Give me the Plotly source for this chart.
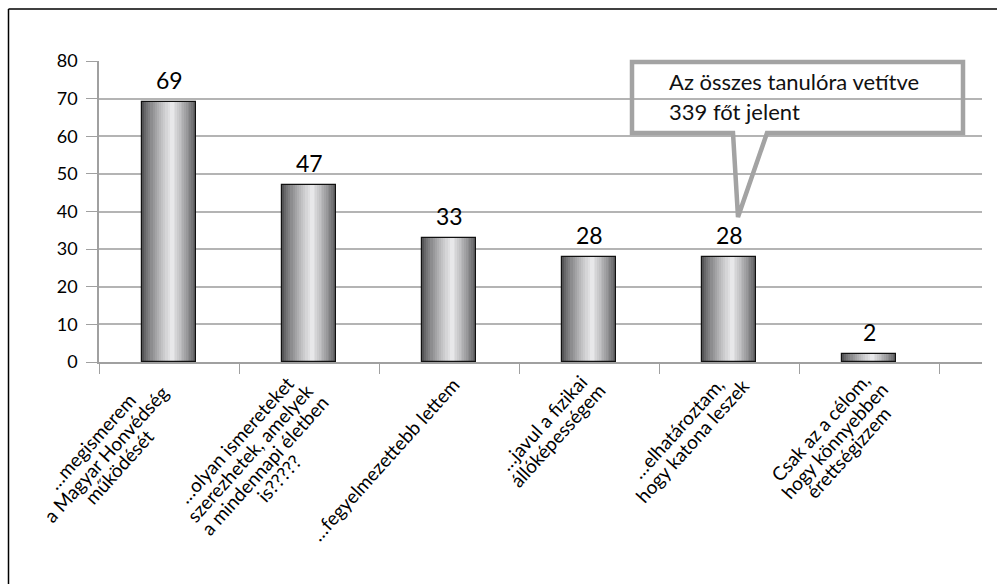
import math
import plotly.graph_objects as go

categories = [
    "…megismerem<br>a Magyar Honvédség<br>működését",
    "…olyan ismereteket<br>szerezhetek, amelyek<br>a mindennapi életben<br>is?????",
    "…fegyelmezettebb lettem",
    "…javul a fizikai<br>állóképességem",
    "…elhatároztam,<br>hogy katona leszek",
    "Csak az a célom,<br>hogy könnyebben<br>érettségizzem",
]
values = [69, 47, 33, 28, 28, 2]
y_ticks = [0, 10, 20, 30, 40, 50, 60, 70, 80]
callout_lines = ["Az összes tanulóra vetítve", "339 főt jelent"]

W, H = 997, 584
L, R, T, B = 99, 15, 61, 222
PW, PH = W - L - R, H - T - B
CAT_W = 140  # pixels per category


def px(x):
    return (x - L) / PW


def py(y):
    return (H - B - y) / PH


xs = list(range(len(values)))
fig = go.Figure()

# gradient-looking bars: layered bars of decreasing width, lighter toward the highlight
BW = 0.39
N = 14
dark = (84, 84, 86)
light = (232, 232, 234)
for i in range(N):
    f = 1 - i / N
    t = (i / (N - 1)) ** 0.8
    c = tuple(int(dark[k] + (light[k] - dark[k]) * t) for k in range(3))
    fig.add_trace(go.Bar(
        x=xs, y=values, width=BW * f, offset=0.02 - f * BW * 0.55,
        marker=dict(color="rgb(%d,%d,%d)" % c, line=dict(width=0)),
        hoverinfo="skip", showlegend=False,
    ))
# outline
fig.add_trace(go.Bar(
    x=xs, y=values, width=BW, offset=-BW / 2,
    marker=dict(color="rgba(0,0,0,0)", line=dict(width=1.2, color="#111111")),
    showlegend=False,
))

# value labels
for x, v in zip(xs, values):
    fig.add_annotation(x=x, y=v, text=str(v), showarrow=False, yanchor="bottom",
                       yshift=6, font=dict(family="Lato, sans-serif", size=23, color="#000"))

# category labels: rotated, lines centred on each other, placed line by line
ANG = 48
LINE_SP = 19
label_dx = [-64, -52, -65, -39, -44, -35]      # block centre offset from category centre (px)
label_cy = [454, 459, 459, 429, 434, 440]      # block centre height (px from top)
nx, ny = math.sin(math.radians(ANG)), math.cos(math.radians(ANG))
for x, c, dx, cy in zip(xs, categories, label_dx, label_cy):
    lines = c.split("<br>")
    cx = L + CAT_W * (x + 0.5) + dx
    for k, ln in enumerate(lines):
        o = (k - (len(lines) - 1) / 2) * LINE_SP
        fig.add_annotation(x=px(cx + o * nx), y=py(cy + o * ny), xref="paper", yref="paper",
                           text=ln, showarrow=False, textangle=-ANG,
                           xanchor="center", yanchor="middle",
                           font=dict(family="Lato, sans-serif", size=19, color="#000"))

# callout
x0, x1, y0, y1 = 632, 963, 62, 133
path = "M {a},{b} L {c},{b} L {c},{d} L {e},{d} L {f},{g} L {h},{d} L {a},{d} Z".format(
    a=px(x0), b=py(y0), c=px(x1), d=py(y1), e=px(767), f=px(738), g=py(217), h=px(733))
fig.add_shape(type="path", path=path, xref="paper", yref="paper",
              line=dict(color="#a3a3a3", width=4.5), fillcolor="rgba(0,0,0,0)")
for k, line in enumerate(callout_lines):
    fig.add_annotation(x=px(667), y=py(81 + 30 * k), xref="paper", yref="paper", text=line,
                       showarrow=False, xanchor="left", yanchor="middle",
                       font=dict(family="Lato, sans-serif", size=22, color="#111"))

# outer frame (left and top edges)
fig.add_shape(type="line", xref="paper", yref="paper", x0=px(8.5), x1=px(1000), y0=py(9), y1=py(9),
              line=dict(color="#000", width=1.5))
fig.add_shape(type="line", xref="paper", yref="paper", x0=px(8.5), x1=px(8.5), y0=py(9), y1=py(600),
              line=dict(color="#000", width=1.5))

fig.update_layout(
    width=W, height=H, margin=dict(l=L, r=R, t=T, b=B),
    paper_bgcolor="white", plot_bgcolor="white",
    barmode="overlay", bargap=0,
    xaxis=dict(range=[-0.5, (982 - L) / CAT_W - 0.5], tickvals=[i - 0.5 for i in range(7)],
               showticklabels=False, ticks="outside", ticklen=10, tickcolor="#a0a0a0",
               showgrid=False, showline=True, linecolor="#a0a0a0", linewidth=1.5, zeroline=False),
    yaxis=dict(range=[0, 80], tickvals=y_ticks, ticks="outside", ticklen=11, tickcolor="#a0a0a0",
               showgrid=True, gridcolor="#b4b4b4", gridwidth=1.5, showline=True,
               linecolor="#a0a0a0", linewidth=1.5, zeroline=False, ticklabelstandoff=5,
               tickfont=dict(family="Lato, sans-serif", size=18, color="#000")),
)

fig.write_html("out.html", config={"displayModeBar": False},
               post_script="document.body.style.margin='0';")
